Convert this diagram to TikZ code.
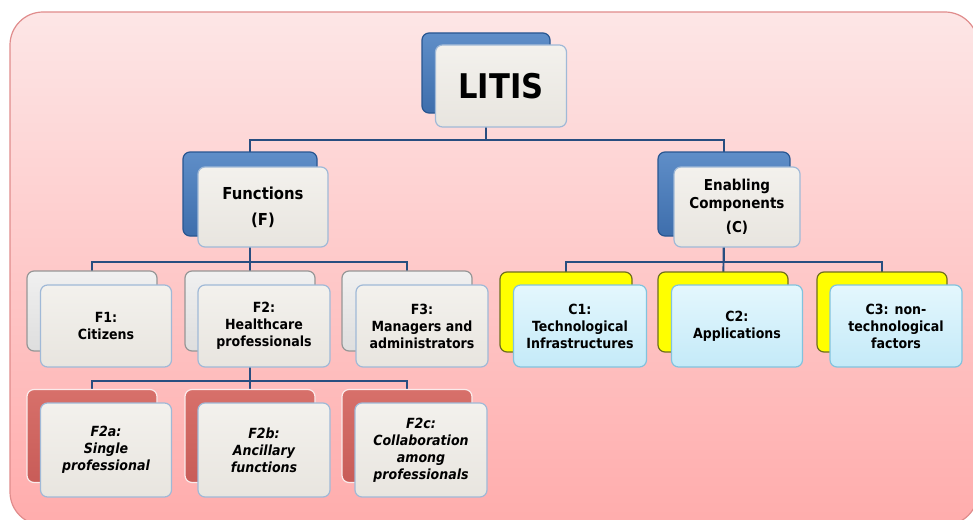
\documentclass[tikz,border=0pt]{standalone}
\usepackage{fontspec}
\setmainfont{DejaVu Sans Condensed}
\pgfdeclarelayer{bg}
\pgfdeclarelayer{lines}
\pgfsetlayers{bg,lines,main}
\definecolor{bgtop}{RGB}{253,230,230}
\definecolor{bgbot}{RGB}{255,172,172}
\definecolor{bgline}{RGB}{224,140,140}
\definecolor{connc}{RGB}{40,78,128}
\definecolor{blueA}{RGB}{95,142,200}
\definecolor{blueB}{RGB}{62,110,172}
\definecolor{blueE}{RGB}{40,86,145}
\definecolor{frontA}{RGB}{243,241,237}
\definecolor{frontB}{RGB}{232,229,223}
\definecolor{frontE}{RGB}{160,185,215}
\definecolor{grayA}{RGB}{240,240,240}
\definecolor{grayB}{RGB}{222,222,222}
\definecolor{grayE}{RGB}{150,150,150}
\definecolor{redA}{RGB}{215,112,106}
\definecolor{redB}{RGB}{200,92,88}
\definecolor{redE}{RGB}{250,235,235}
\definecolor{yelA}{RGB}{255,255,0}
\definecolor{yelE}{RGB}{110,110,30}
\definecolor{cyanA}{RGB}{228,247,253}
\definecolor{cyanB}{RGB}{196,234,248}
\definecolor{cyanE}{RGB}{130,195,222}
\tikzset{
  box/.style={rectangle, rounded corners=7pt, inner sep=0pt, line width=1.2pt, align=center},
  bblue/.style={box, top color=blueA, bottom color=blueB, draw=blueE},
  bgray/.style={box, top color=grayA, bottom color=grayB, draw=grayE},
  bred/.style={box, top color=redA, bottom color=redB, draw=redE},
  byel/.style={box, fill=yelA, draw=yelE},
  fgray/.style={box, top color=frontA, bottom color=frontB, draw=frontE, font=\bfseries\fontsize{14}{17}\selectfont},
  fital/.style={fgray, font=\bfseries\itshape\fontsize{14}{17}\selectfont},
  fcyan/.style={box, top color=cyanA, bottom color=cyanB, draw=cyanE, font=\bfseries\fontsize{14}{17}\selectfont},
  conn/.style={draw=connc, line width=1.8pt},
}
\begin{document}
\begin{tikzpicture}[x=1pt,y=-1pt]
\useasboundingbox (0,0) rectangle (973,519);
\begin{pgfonlayer}{bg}
\shade[top color=bgtop, bottom color=bgbot, draw=bgline, line width=1.2pt, rounded corners=33pt]
  (10,12) rectangle (978,525);
\end{pgfonlayer}
% LITIS
\node[bblue, minimum width=128pt, minimum height=80pt] (litisB) at (486,73) {};
\node[fgray, minimum width=131pt, minimum height=82pt, font=\bfseries\fontsize{34}{40}\selectfont] (litis) at (501,86) {LITIS};
% level 1
\node[bblue, minimum width=134pt, minimum height=84pt] (funcB) at (250,194) {};
\node[fgray, minimum width=130pt, minimum height=80pt, font=\bfseries\fontsize{16.5}{19}\selectfont] (func) at (263,207) {Functions\\[7pt](F)};
\node[bblue, minimum width=132pt, minimum height=84pt] (compB) at (724,194) {};
\node[fgray, minimum width=126pt, minimum height=80pt, font=\bfseries\fontsize{15}{17.5}\selectfont] (comp) at (737,207) {Enabling\\Components\\[7pt](C)};
% F row
\node[bgray, minimum width=130pt, minimum height=80pt] (f1B) at (92,311) {};
\node[fgray, minimum width=131pt, minimum height=82pt] (f1) at (106,326) {F1:\\Citizens};
\node[bgray, minimum width=130pt, minimum height=80pt] (f2B) at (250,311) {};
\node[fgray, minimum width=132pt, minimum height=82pt] (f2) at (264,326) {F2:\\Healthcare\\professionals};
\node[bgray, minimum width=130pt, minimum height=80pt] (f3B) at (407,311) {};
\node[fgray, minimum width=132pt, minimum height=82pt] (f3) at (422,326) {F3:\\Managers and\\administrators};
% F2 sub row
\node[bred, minimum width=130pt, minimum height=93pt] (f2aB) at (92,436) {};
\node[fital, minimum width=131pt, minimum height=94pt] (f2a) at (106,450) {F2a:\\Single\\professional};
\node[bred, minimum width=130pt, minimum height=93pt] (f2bB) at (250,436) {};
\node[fital, minimum width=132pt, minimum height=94pt] (f2b) at (264,450) {F2b:\\Ancillary\\functions};
\node[bred, minimum width=130pt, minimum height=93pt] (f2cB) at (407,436) {};
\node[fital, minimum width=132pt, minimum height=94pt] (f2c) at (421,450) {F2c:\\Collaboration\\among\\professionals};
% C row
\node[byel, minimum width=132pt, minimum height=80pt] (c1B) at (566,312) {};
\node[fcyan, minimum width=133pt, minimum height=82pt] (c1) at (580,326) {C1:\\Technological\\Infrastructures};
\node[byel, minimum width=130pt, minimum height=80pt] (c2B) at (723,312) {};
\node[fcyan, minimum width=131pt, minimum height=82pt] (c2) at (737,326) {C2:\\Applications};
\node[byel, minimum width=130pt, minimum height=80pt] (c3B) at (882,312) {};
\node[fcyan, minimum width=132pt, minimum height=82pt] (c3) at (896,326) {C3: non-\\technological\\factors};
% buses
\coordinate (bus1) at (0,140);
\coordinate (bus2) at (0,262);
\coordinate (bus3) at (0,381);
\begin{pgfonlayer}{lines}
\draw[conn] (litisB.center) -- (litisB.center |- bus1) -| (funcB.center);
\draw[conn] (litisB.center |- bus1) -| (compB.center);
\draw[conn] (funcB.center) -- (funcB.center |- bus2) -| (f1B.center);
\draw[conn] (funcB.center |- bus2) -| (f3B.center);
\draw[conn] (funcB.center) -- (f2B.center);
\draw[conn] (compB.center) -- (compB.center |- bus2) -| (c1B.center);
\draw[conn] (compB.center |- bus2) -| (c3B.center);
\draw[conn] (compB.center) -- (c2B.center);
\draw[conn] (f2B.center) -- (f2B.center |- bus3) -| (f2aB.center);
\draw[conn] (f2B.center |- bus3) -| (f2cB.center);
\draw[conn] (f2B.center) -- (f2bB.center);
\end{pgfonlayer}
\end{tikzpicture}
\end{document}
